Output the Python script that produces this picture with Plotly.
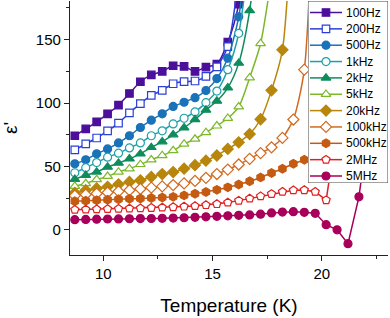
import plotly.graph_objects as go

# ---------------- data ----------------
T_GRID = [8.7, 9.2, 9.7, 10.2, 10.7, 11.2, 11.7, 12.2, 12.7, 13.2, 13.7, 14.2, 14.7, 15.2,
          15.7, 16.2, 16.7, 17.2, 17.7, 18.2, 18.7, 19.2, 19.7, 20.2, 20.7, 21.2, 21.7, 22.2]

series_names = ["100Hz", "200Hz", "500Hz", "1kHz", "2kHz", "5kHz", "20kHz",
                "100kHz", "500kHz", "2MHz", "5MHz"]

eps_100Hz = [74.2, 79.6, 85.2, 91.5, 98.3, 107.5, 116.8, 122.2, 125.0, 129.4, 128.9, 125.0,
             128.4, 130.7, 148.0, 178.0, 260.0]
eps_200Hz = [63.0, 67.7, 72.4, 78.0, 84.2, 92.2, 99.6, 106.0, 110.0, 115.2, 116.9, 117.4,
             121.1, 128.6, 144.5, 200.0]
eps_500Hz = [52.0, 55.2, 59.9, 63.8, 68.5, 74.2, 80.7, 86.5, 91.5, 97.3, 100.6, 104.2,
             109.9, 119.3, 135.4, 168.0, 240.0]
eps_1kHz = [45.0, 49.0, 53.0, 57.3, 60.4, 64.6, 68.5, 74.2, 78.1, 83.5, 88.0, 93.0,
            100.3, 109.4, 126.3, 155.0, 220.0]
eps_2kHz = [39.8, 43.0, 45.6, 49.5, 52.6, 56.0, 59.9, 65.0, 69.5, 75.0, 80.5, 87.0,
            94.5, 101.6, 112.0, 131.5, 173.0, 250.0]
eps_5kHz = [34.4, 36.5, 39.6, 42.2, 45.6, 48.2, 51.6, 55.2, 58.6, 62.5, 67.7, 71.6,
            76.8, 82.0, 88.0, 97.0, 120.0, 147.0, 200.0]
eps_20kHz = [29.2, 31.2, 32.6, 33.9, 35.9, 37.7, 39.0, 41.7, 44.0, 45.5, 48.2, 51.0,
             54.5, 58.6, 63.8, 69.0, 75.5, 87.2, 110.0, 142.0, 270.0]
eps_100kHz = [27.0, 27.8, 28.6, 29.4, 30.3, 31.2, 32.2, 33.2, 34.2, 35.3, 36.6, 38.5,
              41.0, 44.0, 47.5, 51.5, 56.0, 60.5, 65.1, 72.5, 87.0, 126.3, 320.0]
eps_500kHz = [22.5, 22.9, 23.3, 23.7, 24.1, 24.4, 24.7, 25.1, 25.5, 26.0, 27.1, 28.4,
              29.8, 31.5, 33.5, 35.7, 38.3, 41.3, 44.8, 48.2, 52.1, 55.2, 59.0, 66.0,
              85.0, 130.0]
eps_2MHz = [15.8, 16.0, 16.2, 16.4, 16.6, 16.8, 17.0, 17.3, 17.6, 17.9, 18.3, 18.8,
            19.5, 20.3, 21.5, 23.0, 24.7, 26.5, 28.3, 30.0, 31.2, 31.3, 30.0, 23.4, 80.0]
eps_5MHz = [8.0, 8.2, 8.4, 8.5, 8.6, 8.7, 8.8, 8.9, 9.0, 9.2, 9.5, 9.8, 10.2, 10.6,
            11.0, 11.4, 11.7, 12.3, 13.3, 14.0, 14.3, 13.8, 13.0, 4.0, 0.0, -11.0, 26.0, 90.0]

series_values = [eps_100Hz, eps_200Hz, eps_500Hz, eps_1kHz, eps_2kHz, eps_5kHz, eps_20kHz,
                 eps_100kHz, eps_500kHz, eps_2MHz, eps_5MHz]

x_tick_vals = [10, 15, 20]
y_tick_vals = [0, 50, 100, 150]

# ---------------- styles ----------------
colors = ["#4b0f9b", "#2a3fd6", "#1a72b8", "#1ea0a8", "#0f8c5c", "#7cb82a", "#b8860b",
          "#d2691e", "#c55a11", "#e0201f", "#a8005a"]
symbols = ["square", "square", "circle", "circle", "triangle-up", "triangle-up", "diamond",
           "diamond", "hexagon", "pentagon", "circle"]
filled = [True, False, True, False, True, False, True, False, True, False, True]
sizes = [7.5, 7.5, 8, 8, 8.5, 8.5, 8.5, 8.5, 8.5, 8.5, 8]
shapes_line = ["spline"] * 9 + ["linear", "linear"]

W, H = 390, 318
ML, MR, MT, MB = 70, 2, 1, 63
X_RANGE = [8.48, 23.03]
Y_RANGE = [-19.9, 180.5]
AXC = "#222222"
FONT = "Liberation Sans, Arial, sans-serif"

# legend box in figure pixels
LEG_L, LEG_R, LEG_T, LEG_B = 308, 388, 1, 183
LEG_ROW0, LEG_STEP = 12.5, 16.35

fig = go.Figure()

for name, vals, c, s, f, sz, shp in zip(series_names, series_values, colors, symbols,
                                         filled, sizes, shapes_line):
    fig.add_trace(go.Scatter(
        x=T_GRID[:len(vals)], y=vals, mode="lines+markers", name=name,
        line=dict(color=c, width=1.5, shape=shp, smoothing=0.7),
        marker=dict(symbol=s, size=sz, color=c if f else "white",
                    line=dict(color=c, width=1.2)),
        showlegend=False, xaxis="x", yaxis="y"))

# custom compact legend on its own small axes (figure-pixel coordinates)
plot_w = W - ML - MR
plot_h = H - MT - MB
x3_dom = [(LEG_L - ML) / plot_w, (LEG_R - ML) / plot_w]
y3_dom = [(H - MB - LEG_B) / plot_h, (H - MB - LEG_T) / plot_h]

annotations = []
for i, (name, c, s, f, sz) in enumerate(zip(series_names, colors, symbols, filled, sizes)):
    ry = LEG_ROW0 + LEG_STEP * i
    fig.add_trace(go.Scatter(x=[LEG_L + 2, LEG_L + 34], y=[ry, ry], mode="lines",
                             line=dict(color=c, width=1.5), showlegend=False,
                             hoverinfo="skip", xaxis="x3", yaxis="y3"))
    fig.add_trace(go.Scatter(x=[LEG_L + 18], y=[ry], mode="markers",
                             marker=dict(symbol=s, size=sz, color=c if f else "white",
                                         line=dict(color=c, width=1.2)),
                             showlegend=False, hoverinfo="skip", xaxis="x3", yaxis="y3"))
    annotations.append(dict(text=name, x=LEG_L + 36, y=ry, xref="x3", yref="y3",
                            xanchor="left", yanchor="middle", showarrow=False,
                            font=dict(size=12, color="black", family=FONT)))

fig.add_shape(type="rect", xref="x3", yref="y3", x0=LEG_L, x1=LEG_R, y0=LEG_T, y1=LEG_B,
              fillcolor="white", line=dict(color="#444444", width=1), layer="below")

common_ax = dict(showgrid=False, zeroline=False, showline=True, linecolor=AXC, linewidth=1.3,
                 tickcolor=AXC, tickwidth=1, automargin=False)

fig.update_layout(
    width=W, height=H,
    margin=dict(l=ML, r=MR, t=MT, b=MB, autoexpand=False),
    paper_bgcolor="white", plot_bgcolor="white",
    font=dict(family=FONT, color="black"),
    annotations=annotations,
    xaxis=dict(range=X_RANGE, ticks="outside", ticklen=5, tickvals=x_tick_vals,
               minor=dict(ticks="outside", ticklen=3, tick0=10, dtick=2.5, tickcolor=AXC),
               tickfont=dict(size=15), title=dict(text="Temperature (K)", font=dict(size=19),
                                                 standoff=17),
               **common_ax),
    yaxis=dict(range=Y_RANGE, ticks="outside", ticklen=5, tickvals=y_tick_vals,
               minor=dict(ticks="outside", ticklen=3, tick0=0, dtick=25, tickcolor=AXC),
               tickfont=dict(size=15), title=dict(text="ε'", font=dict(size=19), standoff=21),
               **common_ax),
    xaxis2=dict(range=X_RANGE, overlaying="x", side="top", anchor="y", ticks="inside",
                ticklen=5, tickvals=x_tick_vals, showticklabels=False,
                minor=dict(ticks="inside", ticklen=3, tick0=10, dtick=2.5, tickcolor=AXC),
                **common_ax),
    yaxis2=dict(range=Y_RANGE, overlaying="y", side="right", anchor="x", ticks="inside",
                ticklen=5, tickvals=y_tick_vals, showticklabels=False,
                minor=dict(ticks="inside", ticklen=3, tick0=0, dtick=25, tickcolor=AXC),
                **common_ax),
    xaxis3=dict(domain=x3_dom, range=[LEG_L, LEG_R], anchor="y3", visible=False,
                fixedrange=True),
    yaxis3=dict(domain=y3_dom, range=[LEG_B, LEG_T], anchor="x3", visible=False,
                fixedrange=True),
)

fig.write_html("out.html", config={"displayModeBar": False},
               post_script="document.body.style.margin='0';document.body.style.overflow='hidden';")
